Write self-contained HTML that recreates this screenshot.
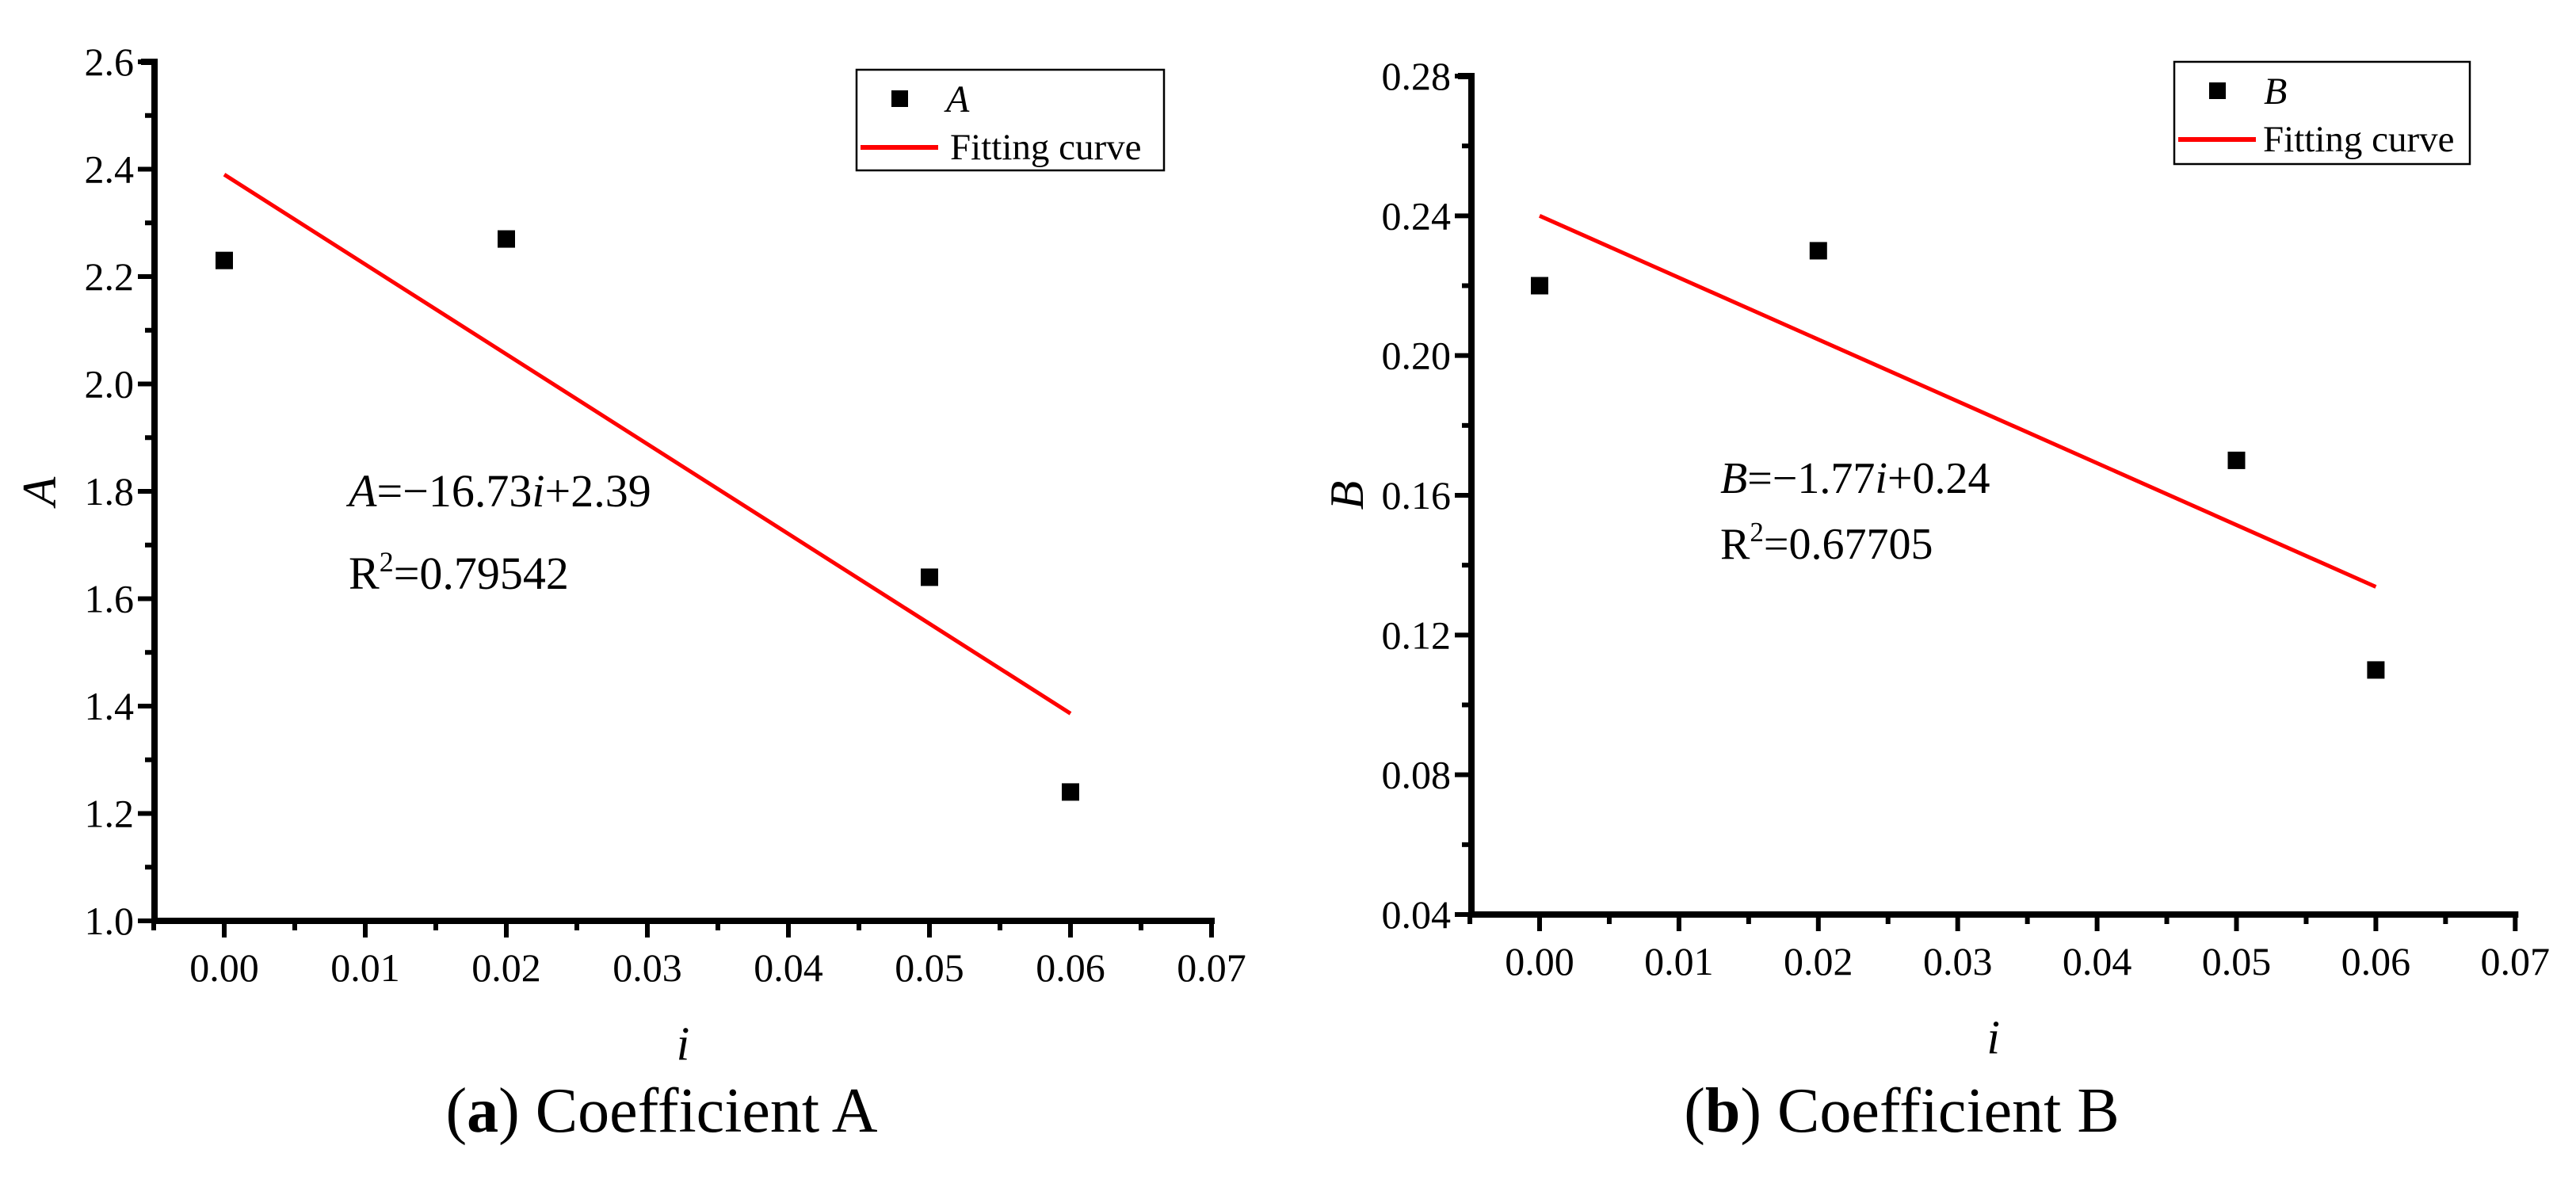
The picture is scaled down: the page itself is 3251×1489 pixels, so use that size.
<!DOCTYPE html>
<html><head><meta charset="utf-8"><style>
html,body{margin:0;padding:0;background:#fff;}
svg, svg text{font-family:"Liberation Serif","Times New Roman","DejaVu Serif",serif;}
</style></head><body>
<svg id="fig" width="3251" height="1484" viewBox="0 0 3251 1484" xmlns="http://www.w3.org/2000/svg" font-family="Liberation Serif, DejaVu Serif, serif"></svg>
<script>
const xCats = [0, 0.02, 0.05, 0.06];
const aValues = [2.23, 2.27, 1.64, 1.24];
const bValues = [0.22, 0.23, 0.17, 0.11];
const xTicks = [0, 0.01, 0.02, 0.03, 0.04, 0.05, 0.06, 0.07];
const xTickLabels = ["0.00","0.01","0.02","0.03","0.04","0.05","0.06","0.07"];
const aTicks = [1.0,1.2,1.4,1.6,1.8,2.0,2.2,2.4,2.6];
const aTickLabels = ["1.0","1.2","1.4","1.6","1.8","2.0","2.2","2.4","2.6"];
const bTicks = [0.04,0.08,0.12,0.16,0.20,0.24,0.28];
const bTickLabels = ["0.04","0.08","0.12","0.16","0.20","0.24","0.28"];
const aFit = [-16.73, 2.39];
const bFit = [-1.77, 0.24];

const NS = "http://www.w3.org/2000/svg";
const svg = document.getElementById('fig');
const FF = '"Liberation Serif", "DejaVu Serif", serif';
function mk(tag, attrs, parent, text){
  const e = document.createElementNS(NS, tag);
  for (const k in attrs) e.setAttribute(k, attrs[k]);
  if (tag === 'text') e.style.fontFamily = FF;
  if (text !== undefined) e.textContent = text;
  (parent||svg).appendChild(e);
  return e;
}

function panel(cfg){
  const g = mk('g', {});
  
  
  const xs = v => cfg.x0 + (v - 0) * cfg.xStep / 0.01;
  const ys = v => cfg.yBottom - (v - cfg.yMin) / (cfg.yMax - cfg.yMin) * (cfg.yBottom - cfg.yTop);
  const xLeft = cfg.axisX, xRight = xs(0.07);
  const ax = mk('path', {d:`M${xLeft} ${cfg.yTop} L${xLeft} ${cfg.yBottom} L${xRight} ${cfg.yBottom}`, fill:'none', stroke:'#000', 'stroke-width':8, 'stroke-linecap':'square'}, g);
  
  
  mk('line', {x1:xLeft-17, y1:cfg.yTop, x2:xLeft, y2:cfg.yTop, stroke:'#000','stroke-width':8}, g);
  const minorX = [-0.005,0.005,0.015,0.025,0.035,0.045,0.055,0.065];
  minorX.forEach(v=>{ mk('line',{x1:xs(v),y1:cfg.yBottom,x2:xs(v),y2:cfg.yBottom+12,stroke:'#000','stroke-width':6},g); });
  xTicks.forEach((v,i)=>{
    mk('line',{x1:xs(v),y1:cfg.yBottom,x2:xs(v),y2:cfg.yBottom+21,stroke:'#000','stroke-width':6},g);
    const t = mk('text',{x:xs(v),y:cfg.yBottom+76,'font-size':50,'text-anchor':'middle'},g,xTickLabels[i]);
    
    
  });
  const yt = cfg.yTicks;
  for (let i=0;i<yt.length;i++){
    const y = ys(yt[i]);
    mk('line',{x1:xLeft-21,y1:y,x2:xLeft,y2:y,stroke:'#000','stroke-width':6},g);
    const t = mk('text',{x:xLeft-26,y:y+17,'font-size':50,'text-anchor':'end'},g,cfg.yLabels[i]);
    
    
    if (i<yt.length-1){
      const ym = ys((yt[i]+yt[i+1])/2);
      mk('line',{x1:xLeft-12,y1:ym,x2:xLeft,y2:ym,stroke:'#000','stroke-width':6},g);
    }
  }
  const f0 = cfg.fit[1], f1 = cfg.fit[0]*0.06+cfg.fit[1];
  const fl = mk('line',{x1:xs(0),y1:ys(f0),x2:xs(0.06),y2:ys(f1),stroke:'#ff0000','stroke-width':5},g);
  
  
  cfg.values.forEach((v,i)=>{
    const r = mk('rect',{x:xs(xCats[i])-11,y:ys(v)-11,width:22,height:22,fill:'#000'},g);
    
    
  });
  const ymid = ys((cfg.yMin+cfg.yMax)/2);
  const yt2 = mk('text',{x:cfg.yTitleX,y:ymid,'font-size':60,'font-style':'italic','text-anchor':'middle',transform:`rotate(-90 ${cfg.yTitleX} ${ymid})`},g,cfg.var);
  
  
  const xt = mk('text',{x:(xLeft+xRight)/2,y:cfg.yBottom+175,'font-size':60,'font-style':'italic','text-anchor':'middle'},g,'i');
  
  
  const L = cfg.legend;
  const lg = mk('g',{},g);
  
  
  mk('rect',{x:L.x,y:L.y,width:L.w,height:L.h,fill:'#fff',stroke:'#000','stroke-width':2.5},lg);
  mk('rect',{x:L.x+44,y:L.y+26,width:21,height:21,fill:'#000'},lg);
  mk('text',{x:L.x+113,y:L.y+53,'font-size':48,'font-style':'italic'},lg,cfg.var);
  mk('line',{x1:L.x+5,y1:L.y+98,x2:L.x+103,y2:L.y+98,stroke:'#ff0000','stroke-width':6},lg);
  mk('text',{x:L.x+L.tx,y:L.y+113,'font-size':47},lg,'Fitting curve');
  const an = mk('text',{x:cfg.annX,y:cfg.annY,'font-size':cfg.annSize},g);
  
  
  mk('tspan',{'font-style':'italic'},an,cfg.var);
  mk('tspan',{},an,'=\u2212'+Math.abs(cfg.fit[0]).toFixed(2));
  mk('tspan',{'font-style':'italic'},an,'i');
  mk('tspan',{},an,'+'+cfg.fit[1].toFixed(2));
  const r2 = mk('text',{x:cfg.annX,y:cfg.annY+cfg.r2dy,'font-size':cfg.annSize},g);
  
  
  mk('tspan',{},r2,'R');
  mk('tspan',{'font-size':Math.round(cfg.annSize*0.62),dy:-22},r2,'2');
  mk('tspan',{dy:22},r2,'='+cfg.r2);
  const cap = mk('text',{x:cfg.capX,y:1428,'font-size':80,'text-anchor':'middle'},g);
  
  
  mk('tspan',{},cap,'(');
  mk('tspan',{'font-weight':'bold'},cap,cfg.letter);
  mk('tspan',{},cap,') Coefficient '+cfg.var);
}

panel({name:'panel-a', var:'A', letter:'a', values:aValues, fit:aFit, r2:'0.79542',
  axisX:195, x0:283, xStep:178, yTop:78, yBottom:1162, yMin:1.0, yMax:2.6,
  yTicks:aTicks, yLabels:aTickLabels, yTitleX:70, annSize:58,
  legend:{x:1081,y:88,w:388,h:127,tx:118}, annX:440, annY:639, r2dy:104, capX:835});
panel({name:'panel-b', var:'B', letter:'b', values:bValues, fit:bFit, r2:'0.67705',
  axisX:1857, x0:1943, xStep:175.9, yTop:96, yBottom:1154, yMin:0.04, yMax:0.28,
  yTicks:bTicks, yLabels:bTickLabels, yTitleX:1720, annSize:56,
  legend:{x:2744,y:78,w:373,h:129,tx:112}, annX:2171, annY:622, r2dy:83, capX:2400});
</script>
</body></html>
